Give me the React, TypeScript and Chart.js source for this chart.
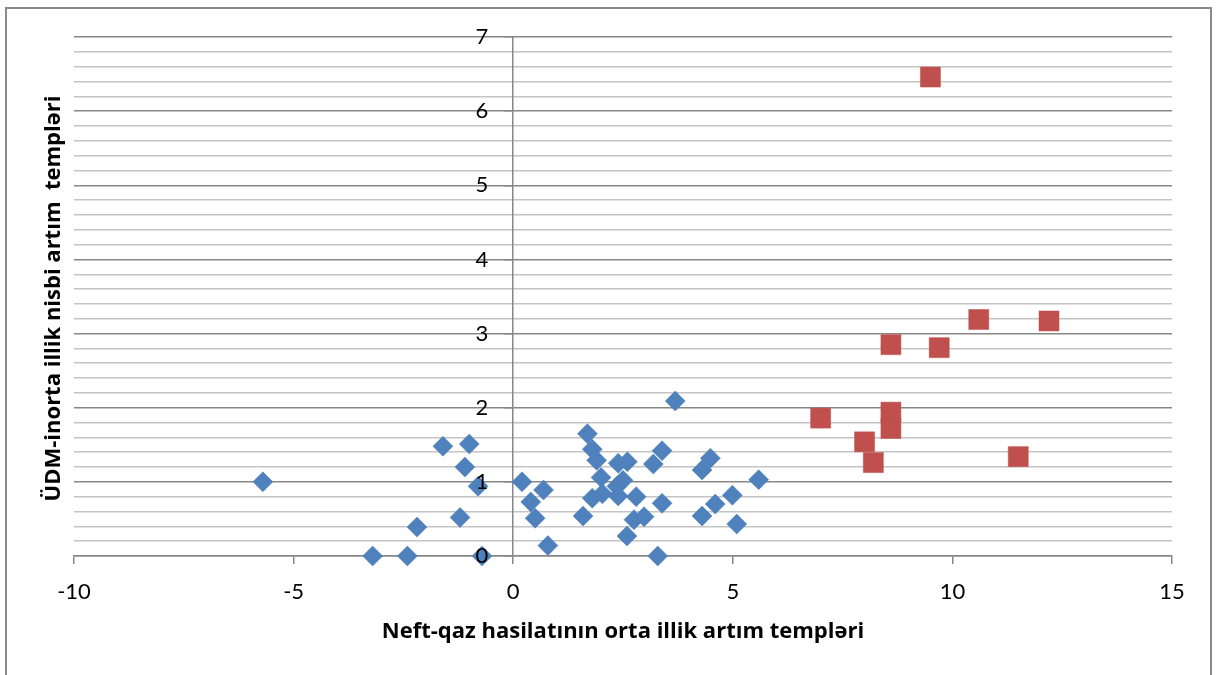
import React, { useEffect, useRef } from "react";
import { Chart, registerables } from "chart.js";

Chart.register(...registerables);

// Blue diamonds
const blueX = [-5.7, -1.6, -1.0, -1.1, -0.8, -1.21, -2.19, -3.2, -2.41, -0.71, 0.2, 0.69, 0.4, 0.5, 0.79, 3.69, 1.69, 1.8, 1.9, 2.39, 2.6, 3.19, 3.39, 2.0, 2.5, 2.36, 2.03, 1.8, 2.39, 2.8, 3.39, 1.59, 2.75, 2.98, 2.59, 3.29, 4.3, 4.49, 4.3, 4.6, 4.99, 5.09, 5.59];
const blueY = [1.0, 1.48, 1.51, 1.2, 0.94, 0.52, 0.39, 0.0, 0.0, 0.0, 1.0, 0.89, 0.73, 0.51, 0.14, 2.09, 1.65, 1.44, 1.29, 1.25, 1.27, 1.24, 1.42, 1.06, 1.02, 0.94, 0.84, 0.78, 0.81, 0.8, 0.71, 0.54, 0.49, 0.53, 0.27, 0.0, 1.16, 1.32, 0.54, 0.7, 0.82, 0.43, 1.03];

// Red squares
const redX = [9.5, 10.6, 12.2, 8.6, 9.7, 7.0, 8.6, 8.6, 8.0, 8.2, 11.5];
const redY = [6.46, 3.19, 3.17, 2.85, 2.81, 1.86, 1.94, 1.72, 1.54, 1.26, 1.34];

const xMin = -10;
const xMax = 15;
const xStep = 5;
const yMin = 0;
const yMax = 7;
const yMinorStep = 0.2;
const yTickLabels = [0, 1, 2, 3, 4, 5, 6, 7];

const X_TITLE = "Neft-qaz hasilatının orta illik artım templəri";
const Y_TITLE = "ÜDM-inorta illik nisbi artım  templəri";

const FONT = "Lato, 'Open Sans', sans-serif";
const TITLE_FONT = "'Open Sans', Lato, sans-serif";

const isMajor = (v: number) => Math.abs(v - Math.round(v)) < 1e-6;

const titlePlugin = {
  id: "axisTitles",
  afterDraw(chart: any) {
    const { ctx, chartArea } = chart;
    ctx.save();
    ctx.fillStyle = "#000";
    ctx.font = `bold 22px ${TITLE_FONT}`;
    ctx.textAlign = "center";
    ctx.textBaseline = "middle";
    ctx.fillText(X_TITLE, (chartArea.left + chartArea.right) / 2, chartArea.bottom + 76);
    ctx.translate(chartArea.left - 20, (chartArea.top + chartArea.bottom) / 2 + 2);
    ctx.rotate(-Math.PI / 2);
    ctx.fillText(Y_TITLE, 0, 0);
    ctx.restore();
  },
};

const yLabelPlugin = {
  id: "yLabels",
  afterDatasetsDraw(chart: any) {
    const { ctx } = chart;
    const xs = chart.scales.x;
    const ys = chart.scales.y;
    const x0 = xs.getPixelForValue(0);
    ctx.save();
    ctx.fillStyle = "#000";
    ctx.font = `22px ${FONT}`;
    ctx.textAlign = "right";
    ctx.textBaseline = "middle";
    yTickLabels.forEach((v) => {
      ctx.fillText(String(v), x0 - 25, ys.getPixelForValue(v));
    });
    ctx.restore();
  },
};

export default function App() {
  const ref = useRef<HTMLCanvasElement | null>(null);

  useEffect(() => {
    if (!ref.current) return;
    const chart = new Chart(ref.current, {
      type: "scatter",
      data: {
        datasets: [
          {
            label: "blue",
            data: blueX.map((x, i) => ({ x, y: blueY[i] })),
            pointStyle: "rectRot",
            pointRadius: 10,
            backgroundColor: "#4F81BD",
            borderColor: "#4A7EBB",
            borderWidth: 0.5,
            clip: false as any,
          },
          {
            label: "red",
            data: redX.map((x, i) => ({ x, y: redY[i] })),
            pointStyle: "rect",
            pointRadius: 14.14,
            backgroundColor: "#C0504D",
            borderColor: "#BE4B48",
            borderWidth: 0.5,
            clip: false as any,
          },
        ],
      },
      options: {
        responsive: false,
        animation: false,
        events: [],
        layout: { padding: { left: 67, right: 38, top: 28, bottom: 0 } },
        plugins: { legend: { display: false }, tooltip: { enabled: false } },
        scales: {
          x: {
            type: "linear",
            min: xMin,
            max: xMax,
            afterFit: (s: any) => {
              s.height = 119;
            },
            ticks: {
              stepSize: xStep,
              color: "#000",
              font: { family: FONT, size: 22 },
              padding: 15,
            },
            grid: {
              drawOnChartArea: false,
              tickLength: 8,
              color: "#878787",
              lineWidth: 1.5,
            },
            border: { color: "#878787", width: 1.5 },
          },
          y: {
            type: "linear",
            min: yMin,
            max: yMax,
            position: { x: 0 } as any,
            ticks: {
              stepSize: yMinorStep,
              autoSkip: false,
              display: false,
            },
            grid: {
              color: (c: any) => (isMajor(c.tick.value) ? "#878787" : "#c4c4c4"),
              tickColor: (c: any) => (isMajor(c.tick.value) ? "#878787" : "rgba(0,0,0,0)"),
              lineWidth: 1.5,
              tickLength: 8,
            },
            border: { color: "#878787", width: 1.5 },
          },
        },
      },
      plugins: [titlePlugin, yLabelPlugin],
    });
    return () => chart.destroy();
  }, []);

  return (
    <div
      style={{
        position: "absolute",
        left: 5,
        top: 7,
        width: 1207,
        height: 668,
        boxSizing: "border-box",
        borderTop: "2px solid #8a8a8a",
        borderLeft: "2px solid #8a8a8a",
        borderRight: "2px solid #8a8a8a",
        background: "#fff",
      }}
    >
      <canvas ref={ref} width={1203} height={666} style={{ display: "block" }} />
    </div>
  );
}
